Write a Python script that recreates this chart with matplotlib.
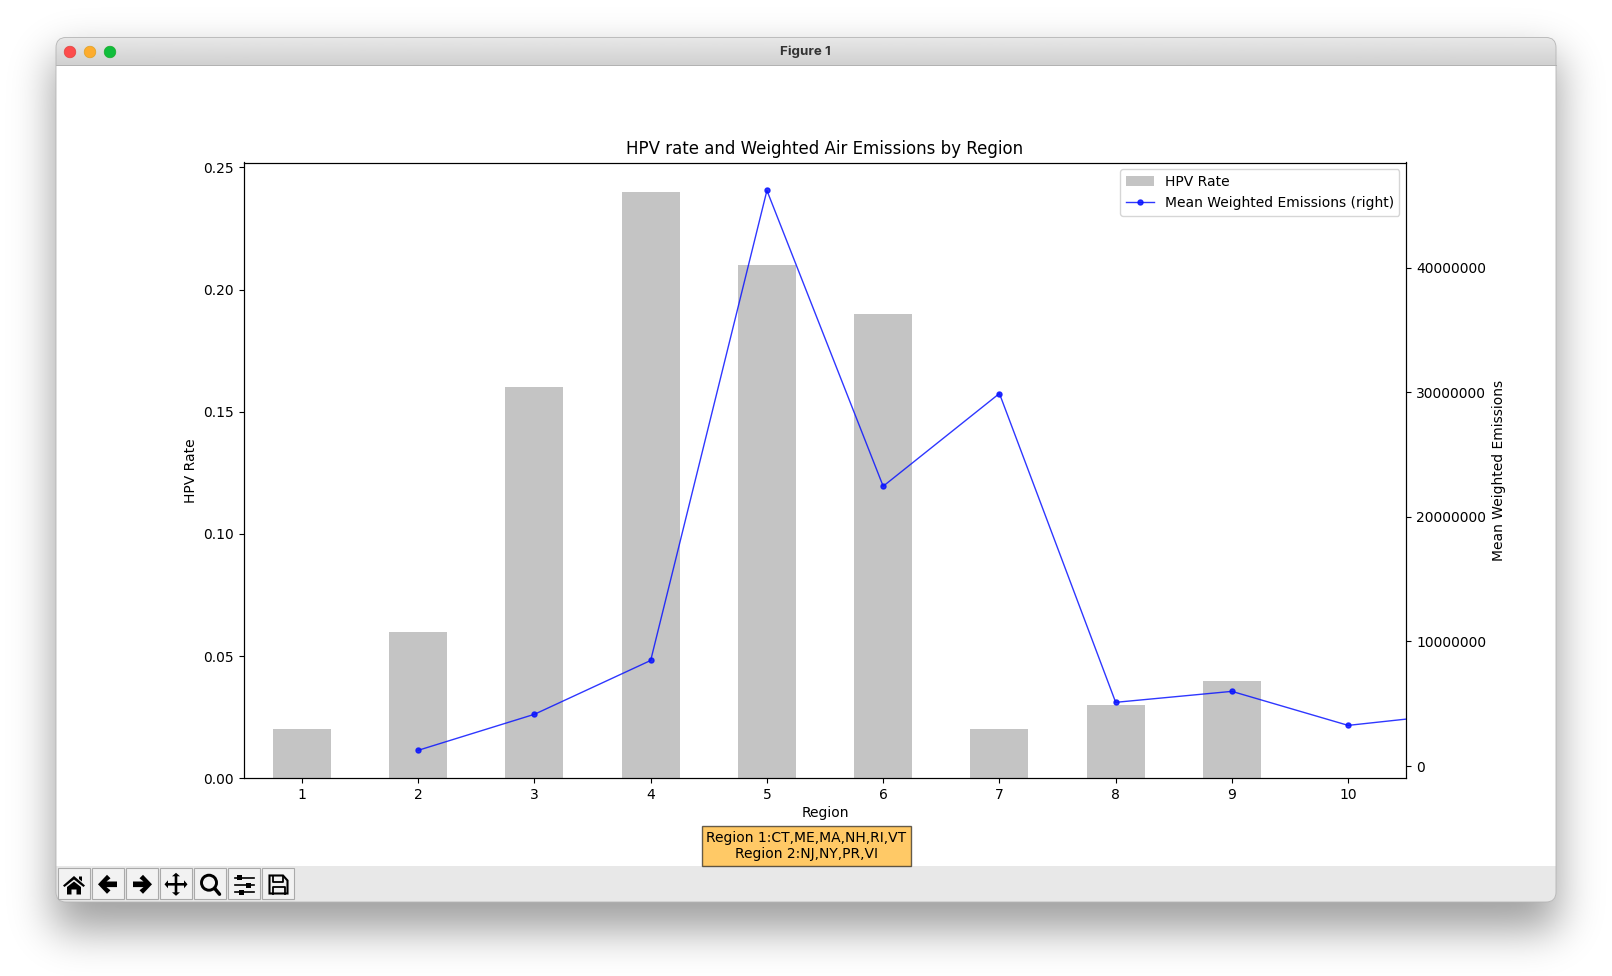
import math
import numpy as np
import matplotlib
matplotlib.use("Agg")
import matplotlib.pyplot as plt
from matplotlib.patches import Circle, FancyBboxPatch, Polygon, Rectangle

W, H = 1612, 976

# HPV rate per region, and the emissions series as it was plotted (shifted one slot right)
regions = [1, 2, 3, 4, 5, 6, 7, 8, 9, 10]
hpv_rate = [0.02, 0.06, 0.16, 0.24, 0.21, 0.19, 0.02, 0.03, 0.04, 0.0]
emission_slots = [1, 2, 3, 4, 5, 6, 7, 8, 9, 10]
mean_emissions = [1260000, 4150000, 8470000, 46180000, 22450000,
                  29890000, 5110000, 5990000, 3260000, 4270000]
region_note = "Region 1:CT,ME,MA,NH,RI,VT\nRegion 2:NJ,NY,PR,VI"

fig = plt.figure(figsize=(W / 100, H / 100), dpi=100, facecolor="white")

# window frame, drawn in pixel coordinates on a full-figure axes
chrome = fig.add_axes([0, 0, 1, 1], zorder=0)
chrome.set_xlim(0, W)
chrome.set_ylim(H, 0)
chrome.axis("off")


def erf_edge(size, lo, hi, sigma):
    v = np.arange(size) + 0.5
    erf = np.vectorize(math.erf)
    return 0.5 * (erf((v - lo) / (sigma * 2 ** 0.5)) - erf((v - hi) / (sigma * 2 ** 0.5)))


# soft drop shadow
shade = 0.38 * np.outer(erf_edge(H, 56, 930, 21), erf_edge(W, 54, 1558, 21))
rgba = np.zeros((H, W, 4))
rgba[..., 3] = shade
chrome.imshow(rgba, extent=(0, W, H, 0), aspect="auto", zorder=0)
chrome.set_xlim(0, W)
chrome.set_ylim(H, 0)

window = FancyBboxPatch((56, 37.5), 1500, 864.5, boxstyle="round,pad=0,rounding_size=10",
                        facecolor="white", edgecolor="none", zorder=1)
chrome.add_patch(window)

# title bar gradient
bar = np.linspace(0.91, 0.82, 28)[:, None]
im = chrome.imshow(bar, cmap="gray", vmin=0, vmax=1, extent=(56, 1556, 65, 37.5),
                   aspect="auto", zorder=2)
im.set_clip_path(window)
chrome.set_xlim(0, W)
chrome.set_ylim(H, 0)
chrome.plot([56, 1556], [65.2, 65.2], color="#b0b0b0", lw=0.7, zorder=3)

for cx, face, rim in [(70, "#fc4c4c", "#e0443e"), (90, "#fdac2e", "#dea123"), (110, "#10bd3c", "#1aab29")]:
    chrome.add_patch(Circle((cx, 52), 5.8, facecolor=face, edgecolor=rim, lw=0.5, zorder=3))
chrome.text(805, 52, "Figure 1", family="Inter", fontweight="bold", fontsize=9.6,
            color="#333333", ha="center", va="center", zorder=3)

# toolbar strip and buttons
strip = Rectangle((56, 866), 1500, 36, facecolor="#e8e8e8", edgecolor="none", zorder=2)
chrome.add_patch(strip)
strip.set_clip_path(window)
chrome.add_patch(FancyBboxPatch((56, 37.5), 1500, 864.5, boxstyle="round,pad=0,rounding_size=10",
                                facecolor="none", edgecolor="#b4b4b4", linewidth=0.6, zorder=3))

button_x = [74, 108, 142, 176, 210, 244, 278]
for bx in button_x:
    chrome.add_patch(Rectangle((bx - 15.7, 868.4), 31.4, 31, facecolor="#f2f2f2",
                               edgecolor="#aaaaaa", lw=0.8, zorder=3))


def icon(points, cx, cy=884.3, **kw):
    pts = [(cx + x, cy + y) for x, y in points]
    kw.setdefault("facecolor", "black")
    kw.setdefault("edgecolor", "none")
    chrome.add_patch(Polygon(pts, closed=True, zorder=4, **kw))


# home
icon([(-11, 0), (0, -9.5), (11, 0), (9.5, 1.5), (0, -6), (-9.5, 1.5)], 74, 885.5)
icon([(-7, 1.5), (0, -4), (7, 1.5), (7, 9), (2.5, 9), (2.5, 4), (-2.5, 4), (-2.5, 9), (-7, 9)], 74, 885.5)
icon([(5, -9), (8, -9), (8, -4), (5, -6.5)], 74, 885.5)
# back and forward arrows
arrow = [(-10, 0), (-1, -9.5), (2.5, -6), (-1.5, -2.8), (9, -2.8), (9, 2.8), (-1.5, 2.8), (2.5, 6), (-1, 9.5)]
icon(arrow, 108)
icon([(-x, y) for x, y in arrow], 142)
# pan/move cross
icon([(-1.3, -8), (-4, -8), (0, -11.5), (4, -8), (1.3, -8), (1.3, -1.3), (8, -1.3), (8, -4), (11.5, 0),
      (8, 4), (8, 1.3), (1.3, 1.3), (1.3, 8), (4, 8), (0, 11.5), (-4, 8), (-1.3, 8), (-1.3, 1.3),
      (-8, 1.3), (-8, 4), (-11.5, 0), (-8, -4), (-8, -1.3), (-1.3, -1.3)], 176)
# zoom
chrome.add_patch(Circle((209, 882.7), 7.5, facecolor="none", edgecolor="black", lw=2.1, zorder=4))
chrome.plot([214.5, 219.5], [888.2, 894.2], color="black", lw=2.5, solid_capstyle="round", zorder=4)
# sliders
for sy, kx in [(877.7, -5), (885.2, 4), (892.2, -3)]:
    chrome.plot([234.5, 253.5], [sy, sy], color="black", lw=1.2, zorder=4)
    chrome.add_patch(Rectangle((244 + kx - 2.5, sy - 2.5), 5, 5, facecolor="black", zorder=4))
# save
chrome.add_patch(Polygon([(269.5, 875.5), (283, 875.5), (287.5, 880.5), (287.5, 893.5), (269.5, 893.5)],
                         closed=True, facecolor="none", edgecolor="black", lw=1.5, zorder=4))
chrome.plot([273, 273, 283, 283], [875.5, 881.5, 881.5, 875.5], color="black", lw=1.3, zorder=4)
chrome.plot([272.5, 272.5, 284.5, 284.5], [893.5, 886.5, 886.5, 893.5], color="black", lw=1.3, zorder=4)

# chart
ax = fig.add_axes([243.8 / W, 1 - 778.3 / H, (1406.3 - 243.8) / W, (778.3 - 162.5) / H], zorder=1)
positions = np.arange(len(regions))
bars = ax.bar(positions, hpv_rate, width=0.5, color="#c4c4c4", label="HPV Rate")
ax.set_xticks(positions)
ax.set_xticklabels(regions)
ax.set_ylabel("HPV Rate")
ax.set_xlabel("Region", labelpad=3)
ax.set_title("HPV rate and Weighted Air Emissions by Region")
ax.set_ylim(0, max(hpv_rate) * 1.05)

ax2 = ax.twinx()
ax2.set_zorder(2)
line, = ax2.plot(emission_slots, mean_emissions, color="#0a14ff", alpha=0.85, lw=1.0, marker="o",
                 markersize=3.6, label="Mean Weighted Emissions (right)")
ax2.set_ylabel("Mean Weighted Emissions")
ax2.ticklabel_format(style="plain", axis="y")
ax.set_xlim(-0.5, 9.5)
ax2.set_xlim(-0.5, 9.5)

ax2.legend(handles=[bars, line], loc="upper right")

fig.text(806.2 / W, 1 - 846 / H, region_note, ha="center", va="center", zorder=5,
         bbox=dict(facecolor="orange", alpha=0.6, edgecolor="black", pad=3.2))

fig.savefig("out.png", dpi=100)
